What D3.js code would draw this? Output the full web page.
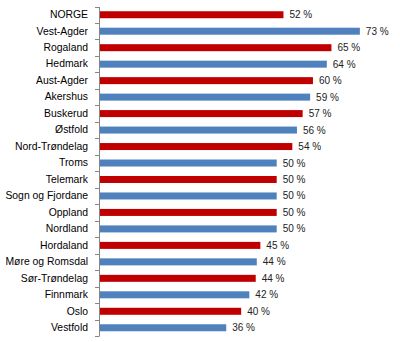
<!DOCTYPE html>
<html><head><meta charset="utf-8">
<script src="https://cdn.jsdelivr.net/npm/d3@7"></script>
<style>body{margin:0;background:#fff}svg{display:block}</style>
</head><body>
<script>
const categories = ["NORGE","Vest-Agder","Rogaland","Hedmark","Aust-Agder","Akershus","Buskerud","Østfold","Nord-Trøndelag","Troms","Telemark","Sogn og Fjordane","Oppland","Nordland","Hordaland","Møre og Romsdal","Sør-Trøndelag","Finnmark","Oslo","Vestfold"];
const values = [51.9,73.4,65.4,64.1,60.2,59.4,57.3,55.7,54.4,50.0,50.0,50.0,50.0,50.0,45.4,44.4,44.1,42.3,40.0,35.8];
const valueLabels = ["52 %","73 %","65 %","64 %","60 %","59 %","57 %","56 %","54 %","50 %","50 %","50 %","50 %","50 %","45 %","44 %","44 %","42 %","40 %","36 %"];

const W=400,H=342;
const svg=d3.select("body").append("svg").attr("width",W).attr("height",H);
const x=d3.scaleLinear().domain([0,100]).range([99,99+355.4]);
const y=d3.scaleBand().domain(categories).range([6.5,336]).padding(0);
const bh=7;
const colors=["#C00000","#4F81BD"];

svg.append("g").selectAll("rect").data(categories).join("rect")
  .attr("x",x(0)).attr("y",d=>y(d)+y.bandwidth()/2-bh/2)
  .attr("width",(d,i)=>x(values[i])-x(0)).attr("height",bh)
  .attr("fill",(d,i)=>colors[i%2]);

const ax=d3.axisLeft(y).tickSize(0).tickPadding(11);
const g=svg.append("g").attr("transform",`translate(${x(0)},0)`).call(ax);
g.select(".domain").attr("stroke","#868686");
g.selectAll("text").attr("font-family","Liberation Sans, Arial, sans-serif").attr("font-size","10.4px").attr("fill","#000");
// tick marks at band boundaries
const bounds=categories.map(c=>y(c)).concat([y.range()[1]]);
svg.append("g").selectAll("line").data(bounds).join("line")
  .attr("x1",x(0)-4).attr("x2",x(0)).attr("y1",d=>Math.round(d)+0.5).attr("y2",d=>Math.round(d)+0.5)
  .attr("stroke","#868686");

svg.append("g").selectAll("text").data(categories).join("text")
  .attr("x",(d,i)=>x(values[i])+6).attr("y",d=>y(d)+y.bandwidth()/2).attr("dy","0.35em")
  .attr("font-family","Liberation Sans, Arial, sans-serif").attr("font-size","10px").attr("fill","#222")
  .text((d,i)=>valueLabels[i]);
</script>
</body></html>
